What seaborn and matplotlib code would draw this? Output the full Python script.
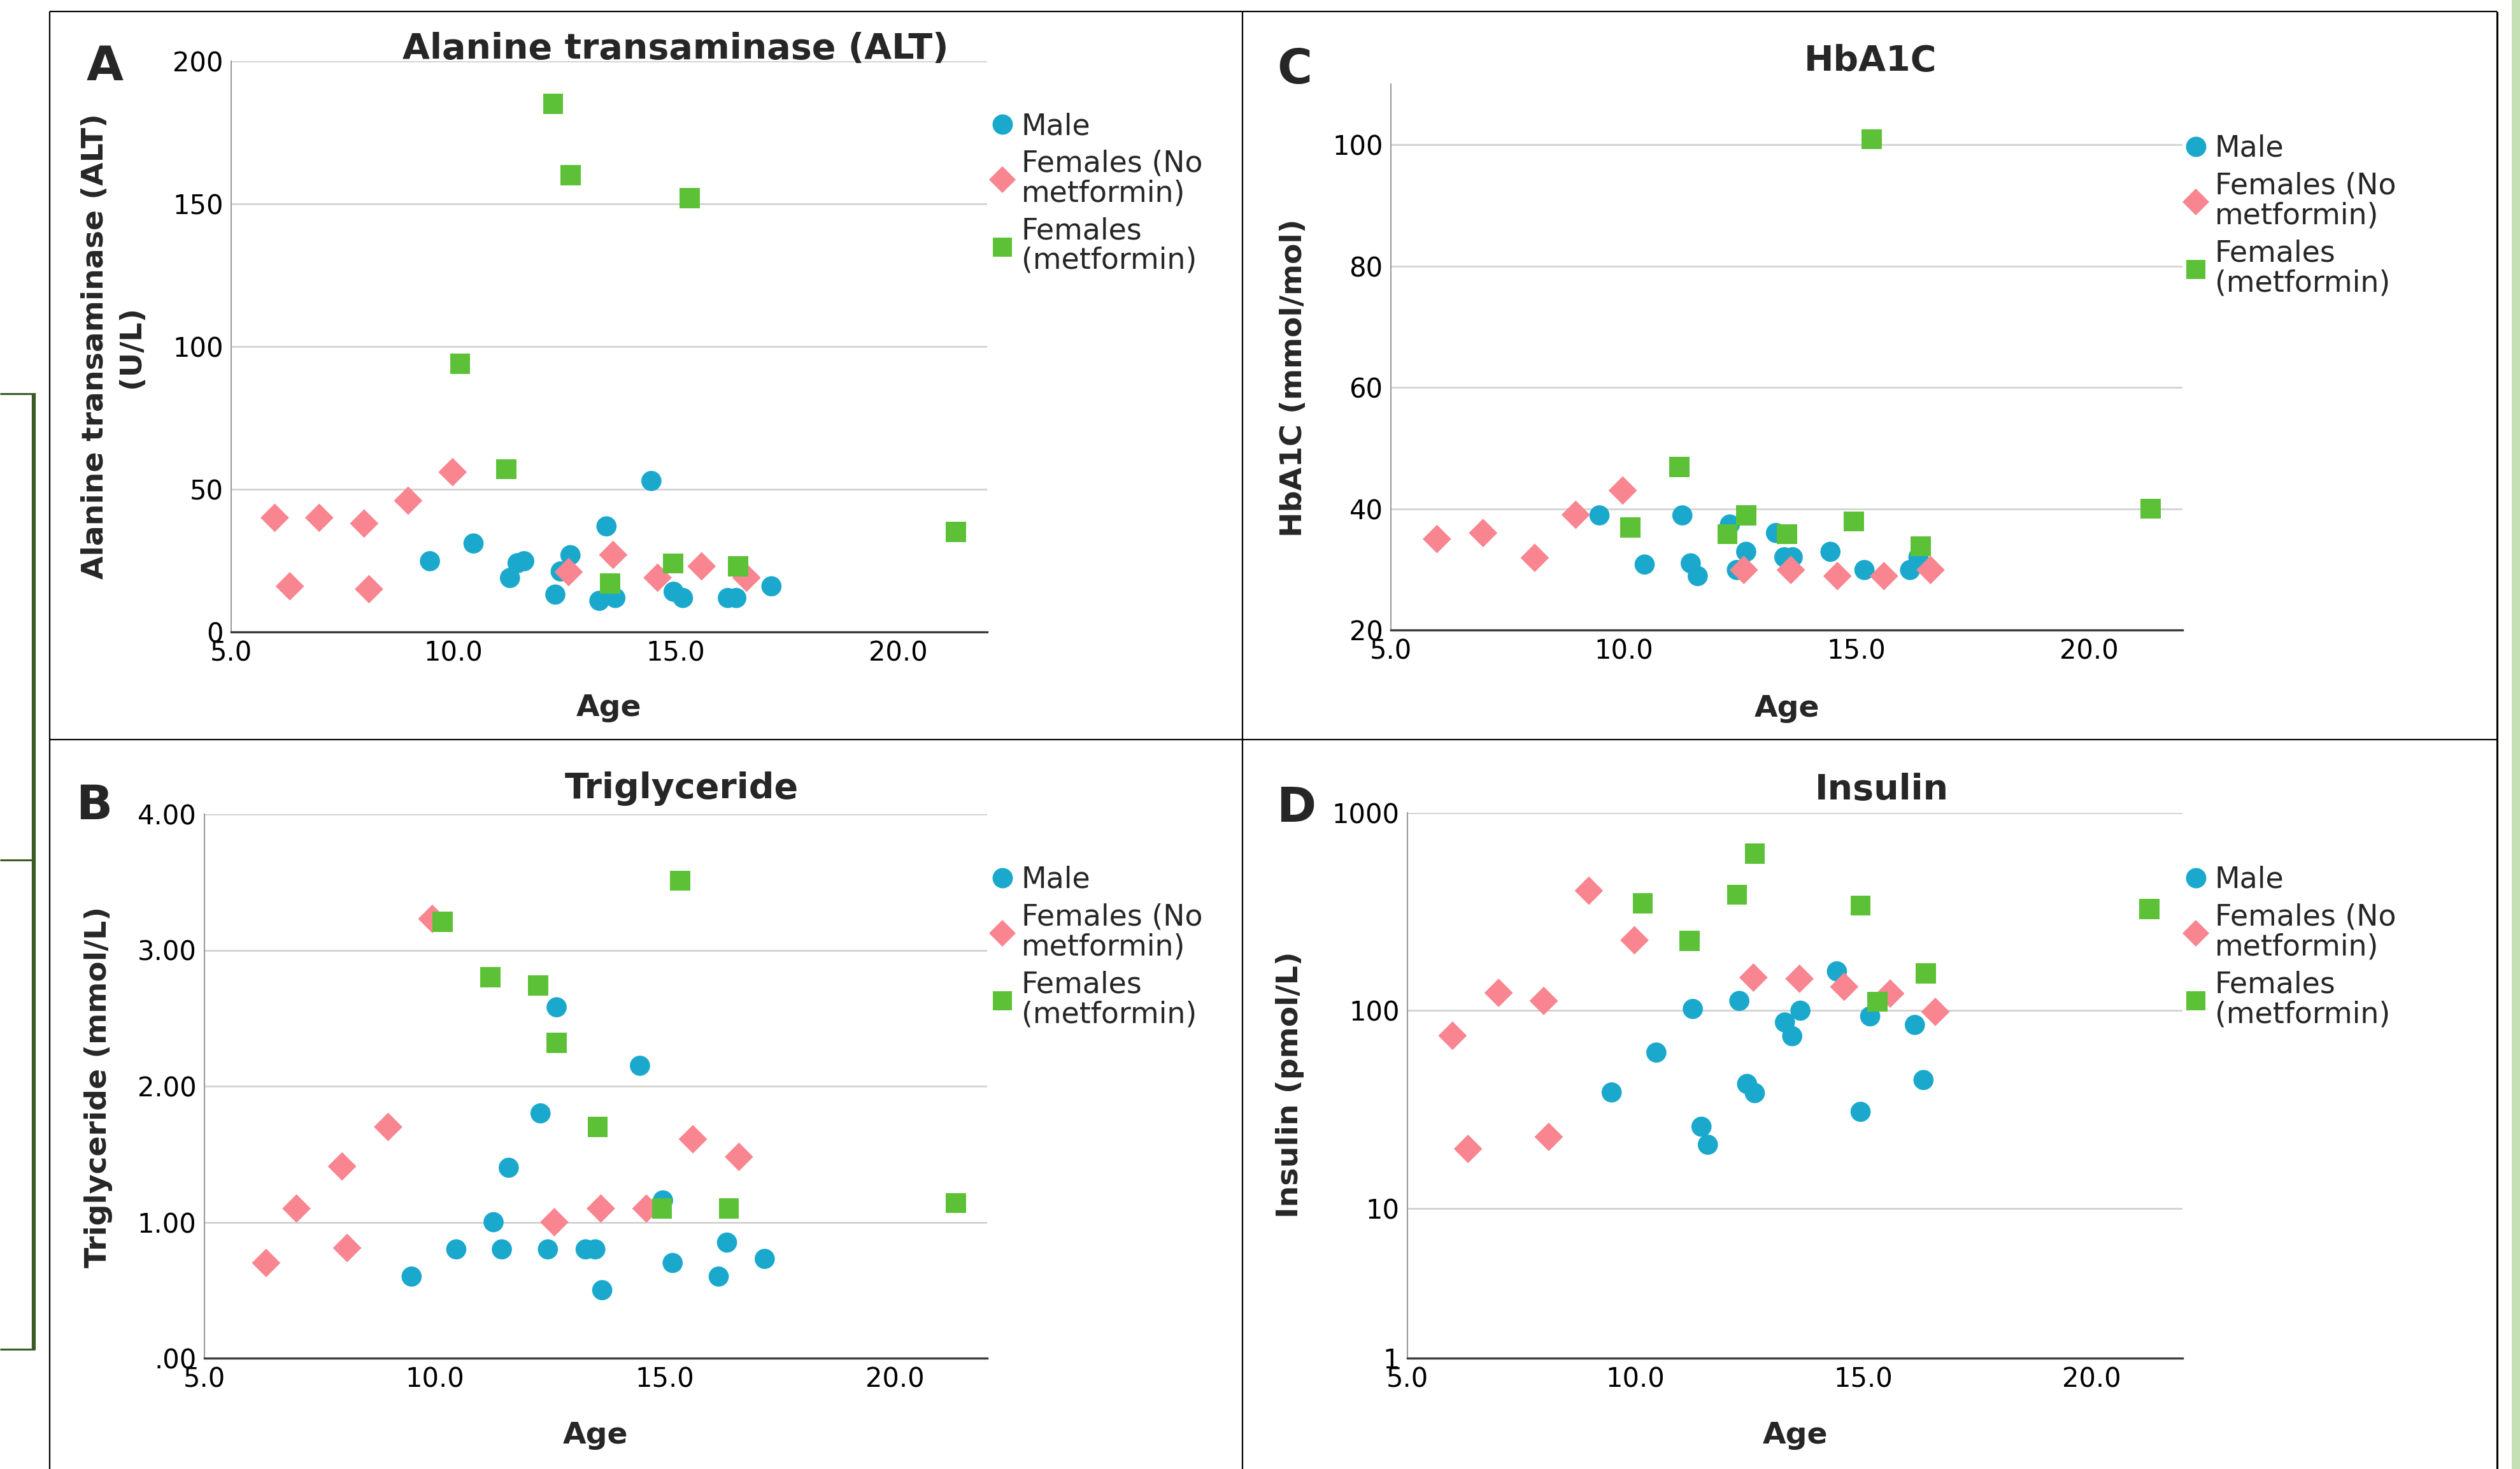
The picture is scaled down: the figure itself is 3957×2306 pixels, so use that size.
import numpy as np
import pandas as pd
import matplotlib
matplotlib.use('Agg')
import matplotlib.pyplot as plt
import seaborn as sns
from matplotlib.lines import Line2D
from matplotlib.patches import Rectangle

# ---------------- data ----------------
GROUPS = ['Male', 'Females (No metformin)', 'Females (metformin)']
LEGEND_LABELS = ['Male', 'Females (No\nmetformin)', 'Females\n(metformin)']
COLORS = ['#1aa9cc', '#f8858f', '#5cc136']
MARKERS = ['o', 'D', 's']

# Panel A: ALT (U/L)
alt_male_age = [9.47, 10.45, 11.27, 11.44, 11.59, 12.29, 12.41, 12.63, 13.28, 13.44, 13.64, 14.45, 14.95, 15.16, 16.17, 16.36, 17.15]
alt_male = [24.8, 31, 18.9, 24.1, 24.8, 13.1, 21.2, 26.9, 10.9, 37, 11.9, 52.9, 14.1, 11.9, 11.9, 11.9, 16]
alt_fnm_age = [5.98, 6.32, 6.98, 7.99, 8.10, 8.98, 9.98, 12.59, 13.59, 14.59, 15.58, 16.59]
alt_fnm = [40, 16, 40, 38, 15, 46, 56, 21, 27, 19, 23, 19]
alt_fm_age = [10.15, 11.19, 12.24, 12.63, 13.52, 14.94, 15.31, 16.40, 21.30]
alt_fm = [94, 57, 185, 160, 17, 24, 152, 23, 35]

# Panel B: Triglyceride (mmol/L)
tg_male_age = [9.50, 10.47, 11.28, 11.46, 11.61, 12.30, 12.46, 12.65, 13.28, 13.49, 13.64, 14.46, 14.96, 15.17, 16.17, 16.35, 17.17]
tg_male = [0.60, 0.80, 1.00, 0.80, 1.40, 1.80, 0.80, 2.58, 0.80, 0.80, 0.50, 2.15, 1.16, 0.70, 0.60, 0.85, 0.73]
tg_fnm_age = [6.34, 7.00, 7.99, 8.10, 8.99, 9.95, 12.60, 13.61, 14.60, 15.61, 16.61]
tg_fnm = [0.70, 1.10, 1.41, 0.81, 1.70, 3.23, 1.00, 1.10, 1.10, 1.61, 1.48]
tg_fm_age = [10.17, 11.21, 12.25, 12.65, 13.54, 14.94, 15.33, 16.39, 21.32]
tg_fm = [3.21, 2.80, 2.74, 2.32, 1.70, 1.10, 3.51, 1.10, 1.14]

# Panel C: HbA1C (mmol/mol)
hb_male_age = [9.48, 10.45, 11.26, 11.44, 11.59, 12.28, 12.43, 12.63, 13.27, 13.45, 13.63, 14.44, 15.17, 16.15, 16.33]
hb_male = [38.9, 30.8, 38.9, 31.0, 28.9, 37.4, 29.9, 32.9, 36.0, 32.0, 32.0, 32.9, 29.9, 29.9, 32.0]
hb_fnm_age = [5.99, 6.98, 8.09, 8.97, 9.98, 12.58, 13.59, 14.59, 15.59, 16.59]
hb_fnm = [35.0, 36.0, 31.9, 39.0, 43.0, 29.9, 29.9, 28.9, 28.9, 29.9]
hb_fm_age = [10.14, 11.20, 12.23, 12.63, 13.51, 14.94, 15.33, 16.38, 21.32]
hb_fm = [36.9, 46.9, 35.8, 38.9, 35.8, 37.9, 100.9, 33.8, 40.0]

# Panel D: Insulin (pmol/L)
ins_male_age = [9.48, 10.46, 11.26, 11.45, 11.59, 12.28, 12.45, 12.62, 13.28, 13.44, 13.62, 14.42, 14.94, 15.15, 16.13, 16.32]
ins_male = [38.6, 61.4, 102, 25.9, 21, 112, 42.6, 38.3, 87.2, 74.3, 100, 158, 30.8, 93.6, 84.7, 44.6]
ins_fnm_age = [5.99, 6.33, 7.00, 7.99, 8.10, 8.98, 9.98, 12.59, 13.60, 14.58, 15.59, 16.58]
ins_fnm = [74.7, 20, 123, 112, 23, 404, 227, 147, 145, 132, 122, 98.6]
ins_fm_age = [10.16, 11.19, 12.23, 12.62, 14.94, 15.31, 16.37, 21.27]
ins_fm = [348, 225, 386, 621, 340, 111, 154, 326]

x_ticks = [5, 10, 15, 20]
x_ticklabels = ['5.0', '10.0', '15.0', '20.0']


def make_df(ages, values):
    rows = []
    for g, a, v in zip(GROUPS, ages, values):
        rows.append(pd.DataFrame({'Age': a, 'Value': v, 'Group': g}))
    return pd.concat(rows, ignore_index=True)


# ---------------- figure ----------------
W, H = 3957, 2306
DPI = 100
sns.set_style('white')
plt.rcParams['font.family'] = ['DejaVu Sans']

fig = plt.figure(figsize=(W / DPI, H / DPI), dpi=DPI)
fig.patch.set_facecolor('white')


def fx(x):
    return x / W


def fy(y):
    return 1 - y / H


def px_rect(l, t, r, b):
    return [l / W, 1 - b / H, (r - l) / W, (b - t) / H]


def fline(xs, ys, color='black', lw=1.6):
    fig.add_artist(Line2D([fx(v) for v in xs], [fy(v) for v in ys], color=color, lw=lw,
                          transform=fig.transFigure, solid_capstyle='butt'))


# outer frame of the 2x2 grid
fline([78, 3921], [18, 18])
fline([78, 78], [18, 2306])
fline([3921, 3921], [18, 2306], lw=2.2)
fline([78, 3921], [1161, 1161])
fline([1951, 1951], [18, 2306])

# left green box fragment
GREEN_DARK = '#3b5a24'
fline([0, 55], [618, 618], color=GREEN_DARK, lw=2.2)
fline([0, 55], [1350, 1350], color=GREEN_DARK, lw=2.2)
fline([0, 55], [2118, 2118], color=GREEN_DARK, lw=2.2)
fline([53, 53], [617, 2119], color=GREEN_DARK, lw=4.5)

# right light green strip
fig.add_artist(Rectangle((fx(3944), 0), (W - 3944) / W, 1, transform=fig.transFigure,
                         color='#c5e0b4', lw=0))


def panel(rect, df, ylim, yticks, yticklabels, title, title_xy, letter, letter_xy,
          ylabel, ylabel_xy, xlabel_xy, legend_xy, ylog=False):
    ax = fig.add_axes(px_rect(*rect))
    ax.set_facecolor('white')
    if ylog:
        ax.set_yscale('log')
    sns.scatterplot(data=df, x='Age', y='Value', hue='Group', style='Group',
                    hue_order=GROUPS, style_order=GROUPS,
                    palette=dict(zip(GROUPS, COLORS)), markers=dict(zip(GROUPS, MARKERS)),
                    s=520, linewidth=0, edgecolor='none', legend=False, ax=ax,
                    zorder=3, clip_on=False)
    ax.set_xlim(5, 22)
    ax.set_ylim(*ylim)
    ax.set_xticks(x_ticks)
    ax.set_xticklabels(x_ticklabels)
    ax.set_yticks(yticks)
    ax.set_yticklabels(yticklabels)
    ax.yaxis.set_minor_locator(matplotlib.ticker.NullLocator())
    ax.tick_params(length=0, labelsize=30, pad=9, colors='black')
    ax.set_axisbelow(True)
    ax.yaxis.grid(True, color='#d2d2d2', lw=2)
    ax.xaxis.grid(False)
    for s in ['top', 'right']:
        ax.spines[s].set_visible(False)
    ax.spines['left'].set_color('#9b9b9b')
    ax.spines['left'].set_linewidth(1.5)
    ax.spines['bottom'].set_color('#3a3a3a')
    ax.spines['bottom'].set_linewidth(2.4)
    ax.spines['bottom'].set_zorder(4)

    ax.set_xlabel('Age', fontsize=34, fontweight='bold')
    ax.xaxis.label.set_va('center')
    ax.xaxis.set_label_coords(fx(xlabel_xy[0]), fy(xlabel_xy[1]), transform=fig.transFigure)
    ax.set_ylabel(ylabel, fontsize=34, fontweight='bold', linespacing=1.35)
    ax.yaxis.label.set_va('center')
    ax.yaxis.set_label_coords(fx(ylabel_xy[0]), fy(ylabel_xy[1]), transform=fig.transFigure)

    fig.text(fx(title_xy[0]), fy(title_xy[1]), title, fontsize=40, fontweight='bold',
             ha='center', va='baseline')
    fig.text(fx(letter_xy[0]), fy(letter_xy[1]), letter, fontsize=54, fontweight='bold',
             ha='center', va='center')

    handles = [Line2D([], [], ls='none', marker=m, markersize=ms, markerfacecolor=c,
                      markeredgewidth=0)
               for m, c, ms in zip(MARKERS, COLORS, [23, 21.5, 21.5])]
    leg = ax.legend(handles, LEGEND_LABELS, loc='upper left',
                    bbox_to_anchor=(fx(legend_xy[0]), fy(legend_xy[1])),
                    bbox_transform=fig.transFigure, frameon=False, fontsize=33,
                    borderpad=0, borderaxespad=0, handlelength=0.7, handletextpad=0.3,
                    labelspacing=0.3)
    for t in leg.get_texts():
        t.set_linespacing(1.05)
    return ax


dfA = make_df([alt_male_age, alt_fnm_age, alt_fm_age], [alt_male, alt_fnm, alt_fm])
dfB = make_df([tg_male_age, tg_fnm_age, tg_fm_age], [tg_male, tg_fnm, tg_fm])
dfC = make_df([hb_male_age, hb_fnm_age, hb_fm_age], [hb_male, hb_fnm, hb_fm])
dfD = make_df([ins_male_age, ins_fnm_age, ins_fm_age], [ins_male, ins_fnm, ins_fm])

panel((363, 96, 1550, 992), dfA, (0, 200), [0, 50, 100, 150, 200],
      ['0', '50', '100', '150', '200'],
      'Alanine transaminase (ALT)', (1061, 92), 'A', (165, 106),
      'Alanine transaminase (ALT)\n(U/L)', (178, 544), (956, 1112), (1558, 176))

panel((321, 1278, 1550, 2132), dfB, (0, 4), [0, 1, 2, 3, 4],
      ['.00', '1.00', '2.00', '3.00', '4.00'],
      'Triglyceride', (1070, 1253), 'B', (148, 1265),
      'Triglyceride (mmol/L)', (155, 1706), (935, 2254), (1558, 1359))

panel((2184, 132, 3427, 989), dfC, (20, 110), [20, 40, 60, 80, 100],
      ['20', '40', '60', '80', '100'],
      'HbA1C', (2937, 111), 'C', (2033, 110),
      'HbA1C (mmol/mol)', (2031, 593), (2806, 1113), (3432, 211))

panel((2210, 1276, 3427, 2132), dfD, (1.75, 1000), [1.75, 10, 100, 1000],
      ['1', '10', '100', '1000'],
      'Insulin', (2955, 1255), 'D', (2035, 1270),
      'Insulin (pmol/L)', (2026, 1703), (2819, 2254), (3432, 1359), ylog=True)

fig.savefig('out.png', dpi=DPI, facecolor='white')
